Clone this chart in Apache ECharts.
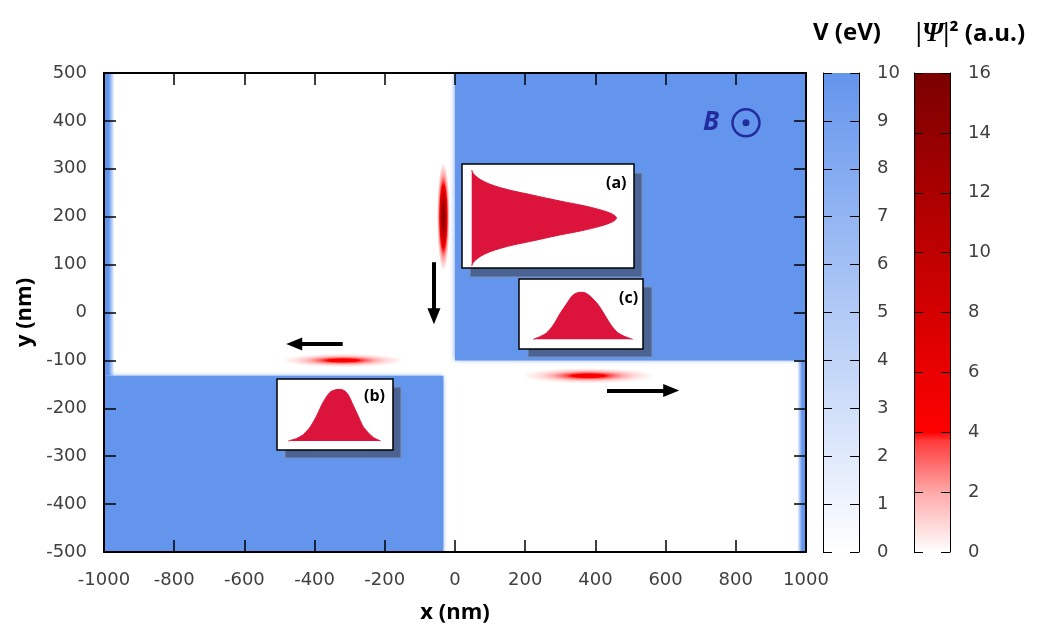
<!DOCTYPE html>
<html>
<head>
<meta charset="utf-8">
<title>Wave packets at a cross junction</title>
<script src="https://cdn.jsdelivr.net/npm/echarts@6/dist/echarts.min.js"></script>
<style>
  html, body { margin: 0; padding: 0; background: #fff; }
  #chart { width: 1050px; height: 637px; }
</style>
</head>
<body>
<div id="chart"></div>
<script>
// axes (nm, eV, a.u.)
const xMin = -1000, xMax = 1000, xStep = 200;
const yMin = -500, yMax = 500, yStep = 100;
const vMax = 10, vStep = 1;
const psiMax = 16, psiStep = 2;

// potential barriers: x0, x1, y0, y1 (nm) and height V (eV)
const barrierX0 = [0, -1000, -1000, 975];
const barrierX1 = [1000, -33, -970, 1000];
const barrierY0 = [-100, -500, -132, -500];
const barrierY1 = [500, -132, 500, -100];
const barrierV = [10, 10, 10, 10];

// wave packets: centre (nm), full extent (nm), peak |psi|^2
const packetX = [-33, -320, 380];
const packetY = [200, -100, -132];
const packetW = [36, 350, 375];
const packetH = [225, 28, 32];
const packetPeak = [15, 5, 5];

// arrows (nm): start -> end
const arrowX0 = [-60, -320, 433];
const arrowY0 = [105, -66, -163];
const arrowX1 = [-60, -458, 616];
const arrowY1 = [-8, -66, -163];

// magnetic field marker (nm)
const fieldPos = [829, 396];

// inset (a): half width of the packet profile along its length
const insetAT = [0, 1, 2.5, 6, 12, 20, 29, 40, 52, 63, 75, 85, 93, 97, 99, 100];
const insetAW = [1.0, 0.93, 0.88, 0.8, 0.71, 0.63, 0.56, 0.49, 0.41, 0.34, 0.27, 0.2, 0.13, 0.08, 0.04, 0];
// inset (b)
const insetBX = [0, 9, 16, 24, 31, 38, 45, 51, 56, 61, 65, 70, 76, 81, 87, 92, 100];
const insetBY = [0, 0.05, 0.12, 0.28, 0.50, 0.76, 0.94, 0.99, 1.0, 0.97, 0.89, 0.70, 0.47, 0.28, 0.15, 0.07, 0];
// inset (c)
const insetCX = [0, 7, 13, 20, 27, 34, 40, 47, 52, 57, 64, 71, 77, 84, 91, 100];
const insetCY = [0, 0.06, 0.13, 0.30, 0.55, 0.77, 0.94, 1.0, 0.99, 0.92, 0.77, 0.55, 0.34, 0.16, 0.07, 0];

// colour maps
const vStops = [[0, '#ffffff'], [10, '#6495ed']];
const psiStops = [[0, '#ffffff'], [2, '#ffa8a8'], [3.7, '#ff3c3c'], [4, '#ff0000'], [8, '#d40000'], [12, '#aa0000'], [16, '#7a0000']];

const tickFont = { fontFamily: 'DejaVu Sans', fontSize: 18, color: '#404040', formatter: v => String(v) };
const boldFont = 'Open Sans';
const fill = '#dc143c';

function hexToRgb(h) {
  const n = parseInt(h.slice(1), 16);
  return [n >> 16, (n >> 8) & 255, n & 255];
}
function mapColor(stops, v, alpha) {
  const a = alpha == null ? 1 : alpha;
  v = Math.max(stops[0][0], Math.min(stops[stops.length - 1][0], v));
  for (let i = 1; i < stops.length; i++) {
    if (v <= stops[i][0]) {
      const t = (v - stops[i - 1][0]) / (stops[i][0] - stops[i - 1][0]);
      const c0 = hexToRgb(stops[i - 1][1]), c1 = hexToRgb(stops[i][1]);
      const c = c0.map((x, k) => Math.round(x + (c1[k] - x) * t));
      return 'rgba(' + c[0] + ',' + c[1] + ',' + c[2] + ',' + a + ')';
    }
  }
}
function barGradient(stops) {
  const max = stops[stops.length - 1][0];
  return {
    type: 'linear', x: 0, y: 0, x2: 0, y2: 1,
    colorStops: stops.map(s => ({ offset: 1 - s[0] / max, color: s[1] })).reverse()
  };
}

const chart = echarts.init(document.getElementById('chart'));

const mainTicks = { show: true, inside: true, length: 12, lineStyle: { color: '#000', width: 1.5 } };
const mainLine = { show: true, onZero: false, lineStyle: { color: '#000', width: 2 } };
const barTicks = { show: true, inside: true, length: 9, lineStyle: { color: '#000', width: 1 } };
const barLine = { show: true, onZero: false, lineStyle: { color: '#000', width: 1 } };
const hidden = { show: false };
const insetLabel = { fontFamily: boldFont, fontWeight: 'bold', fontSize: 16, color: '#000' };

// inset boxes [left, top, width, height] and their drop shadows
const insetBoxes = [[462, 164, 172, 104], [277, 379, 116, 71], [519, 279, 124, 70]];
const shadowShift = [[8, 9], [8, 8], [9, 8]];

function insetAxis(gridIndex, min, max) {
  return { type: 'value', gridIndex, min, max, show: false };
}
function insetArea(xi, yi, xs, ys) {
  return {
    type: 'line', xAxisIndex: xi, yAxisIndex: yi, z: 9, smooth: 0.3, showSymbol: false, silent: true,
    data: xs.map((x, i) => [x, ys[i]]),
    lineStyle: { color: fill, width: 1 },
    areaStyle: { color: fill, opacity: 1, origin: 0 }
  };
}

const shadowGrids = insetBoxes.map((b, i) => ({
  left: b[0] + shadowShift[i][0], top: b[1] + shadowShift[i][1], width: b[2], height: b[3],
  show: true, z: 7, backgroundColor: '#4b6392', borderColor: '#7d90ba', borderWidth: 1
}));
const boxGrids = insetBoxes.map(b => ({
  left: b[0], top: b[1], width: b[2], height: b[3],
  show: true, z: 8, backgroundColor: '#fff', borderColor: '#000', borderWidth: 1.5
}));

const option = {
  animation: false,
  backgroundColor: '#fff',
  title: [
    { text: 'V (eV)', left: 808, top: 16, textStyle: { fontFamily: boldFont, fontWeight: 'bold', fontSize: 24, color: '#000' } },
    {
      text: '{p||\u03A8|}{q|\u00B2 (a.u.)}', left: 911, top: 16,
      textStyle: {
        rich: {
          p: { fontFamily: 'Liberation Serif', fontStyle: 'italic', fontSize: 27, color: '#000' },
          q: { fontFamily: boldFont, fontWeight: 'bold', fontSize: 24, color: '#000' }
        }
      }
    },
    { text: '(a)', left: 601, top: 170, z: 12, textStyle: insetLabel },
    { text: '(b)', left: 359, top: 383, z: 12, textStyle: insetLabel },
    { text: '(c)', left: 614, top: 285, z: 12, textStyle: insetLabel }
  ],
  grid: [
    { left: 104, top: 73, width: 702, height: 479 },
    { left: 823, top: 73, width: 36, height: 479 },
    { left: 914, top: 73, width: 36, height: 479 },
    boxGrids[0], boxGrids[1], boxGrids[2],
    shadowGrids[0], shadowGrids[1], shadowGrids[2]
  ],
  xAxis: [
    {
      type: 'value', gridIndex: 0, min: xMin, max: xMax, interval: xStep, z: 5,
      axisLine: mainLine, axisTick: mainTicks, splitLine: hidden,
      axisLabel: Object.assign({ margin: 19 }, tickFont),
      name: 'x (nm)', nameLocation: 'middle', nameGap: 50,
      nameTextStyle: { fontFamily: boldFont, fontWeight: 'bold', fontSize: 22, color: '#000' }
    },
    {
      type: 'value', gridIndex: 0, position: 'top', min: xMin, max: xMax, interval: xStep, z: 5,
      axisLine: mainLine, axisTick: mainTicks, splitLine: hidden, axisLabel: hidden
    },
    { type: 'category', gridIndex: 1, data: ['V'], show: false },
    { type: 'category', gridIndex: 2, data: ['psi'], show: false },
    insetAxis(3, -6.7, 111.9),
    insetAxis(4, -12.2, 113.3),
    insetAxis(5, -14.4, 110.4),
    insetAxis(6, 0, 1),
    insetAxis(7, 0, 1),
    insetAxis(8, 0, 1)
  ],
  yAxis: [
    {
      type: 'value', gridIndex: 0, min: yMin, max: yMax, interval: yStep, z: 5,
      axisLine: mainLine, axisTick: mainTicks, splitLine: hidden,
      axisLabel: Object.assign({ margin: 17 }, tickFont),
      name: 'y (nm)', nameLocation: 'middle', nameGap: 57,
      nameTextStyle: { fontFamily: boldFont, fontWeight: 'bold', fontSize: 22, color: '#000' }
    },
    {
      type: 'value', gridIndex: 0, position: 'right', min: yMin, max: yMax, interval: yStep, z: 5,
      axisLine: mainLine, axisTick: mainTicks, splitLine: hidden, axisLabel: hidden
    },
    {
      type: 'value', gridIndex: 1, position: 'right', min: 0, max: vMax, interval: vStep, z: 5,
      axisLine: barLine, axisTick: barTicks, splitLine: hidden,
      axisLabel: Object.assign({ margin: 18 }, tickFont)
    },
    {
      type: 'value', gridIndex: 1, position: 'left', min: 0, max: vMax, interval: vStep, z: 5,
      axisLine: barLine, axisTick: barTicks, splitLine: hidden, axisLabel: hidden
    },
    {
      type: 'value', gridIndex: 2, position: 'right', min: 0, max: psiMax, interval: psiStep, z: 5,
      axisLine: barLine, axisTick: barTicks, splitLine: hidden,
      axisLabel: Object.assign({ margin: 18 }, tickFont)
    },
    {
      type: 'value', gridIndex: 2, position: 'left', min: 0, max: psiMax, interval: psiStep, z: 5,
      axisLine: barLine, axisTick: barTicks, splitLine: hidden, axisLabel: hidden
    },
    insetAxis(3, -1.042, 1.125),
    insetAxis(4, -0.174, 1.2),
    insetAxis(5, -0.206, 1.283),
    insetAxis(6, 0, 1),
    insetAxis(7, 0, 1),
    insetAxis(8, 0, 1)
  ],
  series: [
    {
      // potential landscape
      type: 'custom', xAxisIndex: 0, yAxisIndex: 0, z: 1, clip: true, silent: true,
      data: barrierV.map((v, i) => [barrierX0[i], barrierX1[i], barrierY0[i], barrierY1[i], v]),
      renderItem: (params, api) => {
        const x0 = api.value(0), x1 = api.value(1);
        const p0 = api.coord([x0, api.value(3)]);
        const p1 = api.coord([x1, api.value(2)]);
        const col = mapColor(vStops, api.value(4));
        let style = { fill: col, shadowBlur: 5, shadowColor: col };
        if (x1 - x0 < 50) {
          // thin strips at the domain edge fade towards the inside
          const fromLeft = x0 <= xMin;
          style = {
            fill: new echarts.graphic.LinearGradient(fromLeft ? 0 : 1, 0, fromLeft ? 1 : 0, 0, [
              { offset: 0, color: col }, { offset: 0.45, color: col },
              { offset: 1, color: mapColor(vStops, api.value(4), 0) }
            ])
          };
        }
        return { type: 'rect', shape: { x: p0[0], y: p0[1], width: p1[0] - p0[0], height: p1[1] - p0[1] }, style };
      }
    },
    {
      // wave packets |psi|^2: a circle with radial gradient, scaled into an ellipse
      type: 'custom', xAxisIndex: 0, yAxisIndex: 0, z: 2, silent: true,
      data: packetPeak.map((p, i) => [packetX[i], packetY[i], packetW[i], packetH[i], p]),
      renderItem: (params, api) => {
        const c = api.coord([api.value(0), api.value(1)]);
        const s = api.size([api.value(2), api.value(3)]);
        const peak = api.value(4);
        const stops = [];
        for (let k = 0; k <= 12; k++) {
          const r = k / 12;
          stops.push({ offset: r, color: mapColor(psiStops, peak * Math.exp(-3.4 * r * r), k === 12 ? 0 : 1) });
        }
        return {
          type: 'circle',
          x: c[0], y: c[1], scaleX: s[0] / 20, scaleY: s[1] / 20,
          shape: { cx: 0, cy: 0, r: 10 },
          style: { fill: new echarts.graphic.RadialGradient(0.5, 0.5, 0.5, stops) }
        };
      }
    },
    {
      // magnetic field out of plane + direction arrows
      type: 'scatter', xAxisIndex: 0, yAxisIndex: 0, z: 3, silent: true,
      data: [
        {
          value: fieldPos, symbolSize: 27,
          itemStyle: { color: 'rgba(0,0,0,0)', borderColor: '#12128a', borderWidth: 2.5 },
          label: {
            show: true, position: 'left', distance: 12, formatter: 'B',
            fontFamily: boldFont, fontStyle: 'italic', fontWeight: 'bold', fontSize: 26, color: '#12128a'
          }
        },
        { value: fieldPos, symbolSize: 7, itemStyle: { color: '#12128a' } }
      ],
      markLine: {
        silent: true,
        symbol: ['none', 'triangle'],
        symbolSize: [13, 16],
        label: { show: false },
        lineStyle: { color: '#000', width: 4, type: 'solid' },
        data: arrowX0.map((x, i) => [
          { coord: [x, arrowY0[i]] },
          { coord: [arrowX1[i], arrowY1[i]] }
        ])
      }
    },
    {
      type: 'bar', xAxisIndex: 2, yAxisIndex: 2, barWidth: '100%', silent: true,
      data: [vMax],
      itemStyle: { color: barGradient(vStops) }
    },
    {
      type: 'bar', xAxisIndex: 3, yAxisIndex: 4, barWidth: '100%', silent: true,
      data: [psiMax],
      itemStyle: { color: barGradient(psiStops) }
    },
    // inset (a): symmetric profile, upper and lower halves filled to the centre line
    insetArea(4, 6, insetAT, insetAW),
    insetArea(4, 6, insetAT, insetAW.map(w => -w)),
    insetArea(5, 7, insetBX, insetBY),
    insetArea(6, 8, insetCX, insetCY)
  ]
};

chart.setOption(option);
</script>
</body>
</html>
